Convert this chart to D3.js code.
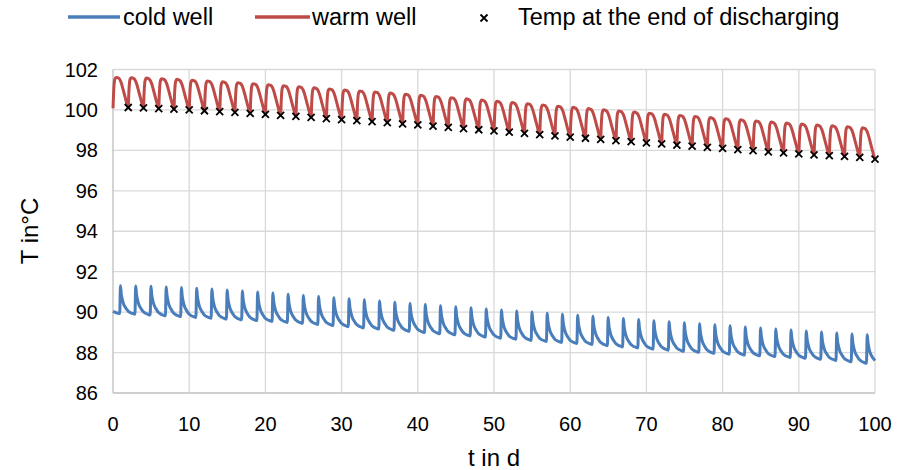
<!DOCTYPE html>
<html>

<head>
    <title>Well temperatures</title>
    <script src="https://cdnjs.cloudflare.com/ajax/libs/d3/7.8.5/d3.min.js" type="text/JavaScript"></script>
    <style>
        body { margin: 0; background: #fff; }
        text { font-family: "Liberation Sans", Arial, sans-serif; fill: #000; }
    </style>
</head>

<body>
    <svg id="chart" width="912" height="470"></svg>
    <script>
        // tick labels
        var xTicks = [0, 10, 20, 30, 40, 50, 60, 70, 80, 90, 100]
        var yTicks = [86, 88, 90, 92, 94, 96, 98, 100, 102]

        // end of discharging (warm well troughs)
        var dischargeDays = [2, 4, 6, 8, 10, 12, 14, 16, 18, 20, 22, 24, 26, 28, 30, 32, 34, 36, 38, 40,
            42, 44, 46, 48, 50, 52, 54, 56, 58, 60, 62, 64, 66, 68, 70, 72, 74, 76, 78, 80,
            82, 84, 86, 88, 90, 92, 94, 96, 98, 100]
        var dischargeTemp = [100.12, 100.1, 100.07, 100.04, 100.0, 99.96, 99.92, 99.88, 99.83, 99.78,
            99.73, 99.68, 99.63, 99.57, 99.52, 99.47, 99.42, 99.37, 99.31, 99.26,
            99.2, 99.14, 99.08, 99.02, 98.96, 98.9, 98.84, 98.78, 98.72, 98.66,
            98.6, 98.54, 98.48, 98.43, 98.37, 98.32, 98.26, 98.21, 98.15, 98.1,
            98.04, 97.99, 97.93, 97.88, 97.83, 97.78, 97.74, 97.7, 97.65, 97.57]

        // warm well: start value and peak of each 2-day cycle
        var warmStart = 100.08
        var warmPeak = [101.6, 101.6, 101.58, 101.55, 101.52, 101.48, 101.44, 101.4, 101.36, 101.31,
            101.26, 101.21, 101.16, 101.11, 101.05, 101.0, 100.95, 100.9, 100.85, 100.79,
            100.74, 100.68, 100.62, 100.56, 100.5, 100.44, 100.38, 100.32, 100.26, 100.2,
            100.14, 100.08, 100.02, 99.96, 99.91, 99.85, 99.8, 99.74, 99.69, 99.63,
            99.58, 99.52, 99.47, 99.41, 99.36, 99.31, 99.26, 99.22, 99.18, 99.13]
        // shape of one warm cycle: [day in cycle, share of the swing]
        var warmShape = [[0, 0], [0.08, 0.5], [0.16, 0.82], [0.25, 0.95], [0.4, 1], [0.6, 0.99], [0.8, 0.96],
            [0.95, 0.9], [1.1, 0.8], [1.3, 0.62], [1.5, 0.43], [1.7, 0.24], [1.85, 0.1]]

        // cold well: value before each spike and spike peak
        var coldStart = 90.04
        var coldEnd = 87.6
        var coldSpike = 0.88
        var coldBase = [89.93, 89.9, 89.86, 89.82, 89.78, 89.74, 89.7, 89.66, 89.62, 89.58,
            89.54, 89.49, 89.45, 89.39, 89.34, 89.28, 89.22, 89.16, 89.1, 89.05,
            88.99, 88.93, 88.88, 88.82, 88.77, 88.71, 88.66, 88.6, 88.55, 88.5,
            88.45, 88.4, 88.34, 88.28, 88.23, 88.17, 88.12, 88.06, 88.01, 87.96,
            87.92, 87.88, 87.84, 87.8, 87.76, 87.72, 87.67, 87.61, 87.54, 87.47]
        var coldPeak = [91.3, 91.3, 91.28, 91.25, 91.22, 91.18, 91.14, 91.1, 91.05, 91.0,
            90.95, 90.88, 90.83, 90.77, 90.72, 90.66, 90.61, 90.55, 90.49, 90.43,
            90.38, 90.32, 90.27, 90.22, 90.16, 90.11, 90.06, 90.01, 89.95, 89.9,
            89.85, 89.8, 89.74, 89.69, 89.64, 89.58, 89.53, 89.48, 89.43, 89.38,
            89.33, 89.27, 89.22, 89.17, 89.12, 89.07, 89.02, 88.97, 88.92, 88.88]
        var coldShape = [[0, 0], [0.1, 1], [0.2, 0.72], [0.35, 0.5], [0.5, 0.36], [0.7, 0.25], [0.9, 0.17],
            [1.1, 0.1], [1.4, 0.05], [1.7, 0.02]]

        var blue = "#4a7ebb", red = "#be4b48"

        var svg = d3.select("#chart")
        var x = d3.scaleLinear().domain([0, 100]).range([113, 875])
        var y = d3.scaleLinear().domain([86, 102]).range([393, 69.5])

        // build the warm line
        var warm = []
        warmPeak.forEach(function (p, k) {
            var b0 = k === 0 ? warmStart : dischargeTemp[k - 1]
            var b1 = dischargeTemp[k]
            warmShape.forEach(function (s) {
                var base = b0 + (b1 - b0) * s[0] / 2
                warm.push([dischargeDays[k] - 2 + s[0], base + (p - b0) * s[1]])
            })
        })
        warm.push([dischargeDays[49], dischargeTemp[49]])

        // build the cold line
        var cold = [[0, coldStart]]
        coldPeak.forEach(function (p, k) {
            var b0 = coldBase[k]
            var b1 = k < coldBase.length - 1 ? coldBase[k + 1] : coldBase[k]
            coldShape.forEach(function (s) {
                var t = 2 * k + coldSpike + s[0]
                if (t >= 100) return
                var base = b0 + (b1 - b0) * s[0] / 2
                cold.push([t, base + (p - b0) * s[1]])
            })
        })
        cold.push([100, coldEnd])

        // grid
        var grid = svg.append("g")
        grid.selectAll("line.h").data(yTicks).enter().append("line")
            .attr("x1", x(0)).attr("x2", x(100))
            .attr("y1", d => y(d)).attr("y2", d => y(d))
            .style("stroke", d => d === 86 ? "#bfbfbf" : "#d9d9d9")
            .style("stroke-width", "1.3px")
        grid.selectAll("line.v").data(xTicks).enter().append("line")
            .attr("y1", y(86)).attr("y2", y(102))
            .attr("x1", d => x(d)).attr("x2", d => x(d))
            .style("stroke", d => d === 0 ? "#bfbfbf" : "#d9d9d9")
            .style("stroke-width", "1.3px")

        // tick labels
        svg.append("g").selectAll("text").data(yTicks).enter().append("text")
            .attr("x", 98).attr("y", d => y(d)).attr("dy", "0.35em")
            .style("text-anchor", "end").style("font-size", "20px")
            .text(d => d)
        svg.append("g").selectAll("text").data(xTicks).enter().append("text")
            .attr("x", d => x(d)).attr("y", 424).attr("dy", "0.35em")
            .style("text-anchor", "middle").style("font-size", "20px")
            .text(d => d)

        // axis titles
        svg.append("text").attr("x", 494).attr("y", 466)
            .style("text-anchor", "middle").style("font-size", "24px").text("t in d")
        svg.append("text").attr("transform", "translate(30,231) rotate(-90)").attr("dy", "0.35em")
            .style("text-anchor", "middle").style("font-size", "24px").text("T in°C")

        var line = d3.line().x(d => x(d[0])).y(d => y(d[1])).curve(d3.curveMonotoneX)

        svg.append("path").datum(cold).attr("d", line)
            .style("fill", "none").style("stroke", blue).style("stroke-width", "3px")
            .style("stroke-linejoin", "round")
        svg.append("path").datum(warm).attr("d", line)
            .style("fill", "none").style("stroke", red).style("stroke-width", "3px")
            .style("stroke-linejoin", "round")

        // crosses
        var cr = 3.5
        svg.append("g").selectAll("path").data(dischargeDays).enter().append("path")
            .attr("transform", (d, i) => `translate(${x(d)},${y(dischargeTemp[i])})`)
            .attr("d", `M${-cr},${-cr}L${cr},${cr}M${-cr},${cr}L${cr},${-cr}`)
            .style("stroke", "#000").style("stroke-width", "1.8px")

        // legend
        var lg = svg.append("g")
        lg.append("line").attr("x1", 68).attr("x2", 120).attr("y1", 17).attr("y2", 17)
            .style("stroke", blue).style("stroke-width", "3.5px")
        lg.append("text").attr("x", 123).attr("y", 17).attr("dy", "0.35em")
            .style("font-size", "23.5px").text("cold well")
        lg.append("line").attr("x1", 255).attr("x2", 310).attr("y1", 17).attr("y2", 17)
            .style("stroke", red).style("stroke-width", "3.5px")
        lg.append("text").attr("x", 312).attr("y", 17).attr("dy", "0.35em")
            .style("font-size", "23.5px").text("warm well")
        lg.append("path").attr("transform", "translate(484,18)")
            .attr("d", `M${-cr},${-cr}L${cr},${cr}M${-cr},${cr}L${cr},${-cr}`)
            .style("stroke", "#000").style("stroke-width", "1.8px")
        lg.append("text").attr("x", 518).attr("y", 17).attr("dy", "0.35em")
            .style("font-size", "23.5px").text("Temp at the end of discharging")
    </script>
</body>

</html>
